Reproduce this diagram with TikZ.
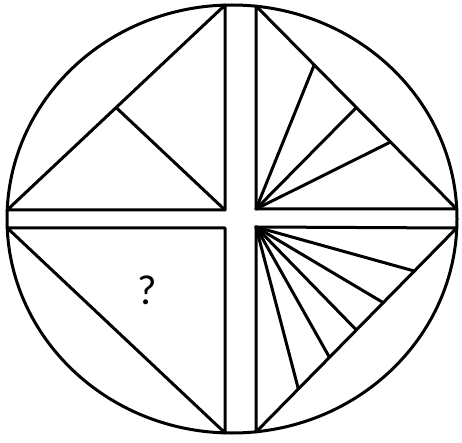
\documentclass[tikz,border=0pt]{standalone}
\usepackage{fontspec}
\newfontfamily\qfont{Carlito}
\usetikzlibrary{calc}
\begin{document}
\begin{tikzpicture}[x=1pt,y=-1pt,
  edge/.style={line width=3pt,line cap=round,line join=round,black}]
\useasboundingbox (0,0) rectangle (462,443);
% outer circle
\draw[edge] (232,219) ellipse [x radius=225,y radius=214];
% top-left quadrant
\coordinate (tlC) at (225,210);
\coordinate (tlL) at (7.2,210);
\coordinate (tlT) at (225,5.1);
\draw[edge] (tlT) -- (tlC) -- (tlL) -- cycle;
\draw[edge] (tlC) -- ($(tlL)!0.5!(tlT)$);
% top-right quadrant
\coordinate (trC) at (256,209);
\coordinate (trT) at (256,6);
\coordinate (trR) at (456.7,209);
\draw[edge] (trT) -- (trC) -- (trR) -- cycle;
\foreach \t in {0.29,0.5,0.67}
  \draw[edge] (trC) -- ($(trT)!\t!(trR)$);
% bottom-left quadrant
\coordinate (blC) at (225,228);
\coordinate (blL) at (7.3,228);
\coordinate (blB) at (225,432.9);
\draw[edge] (blB) -- (blC) -- (blL) -- cycle;
\node[font=\qfont\fontsize{42}{44}\selectfont] (q) at (147,290) {?};
% bottom-right quadrant
\coordinate (brC) at (256,227);
\coordinate (brR) at (456.7,228);
\coordinate (brB) at (256,432);
\draw[edge] (brB) -- (brC) -- (brR) -- cycle;
\foreach \t in {0.211,0.366,0.5,0.634,0.789}
  \draw[edge] (brC) -- ($(brR)!\t!(brB)$);
\end{tikzpicture}
\end{document}
